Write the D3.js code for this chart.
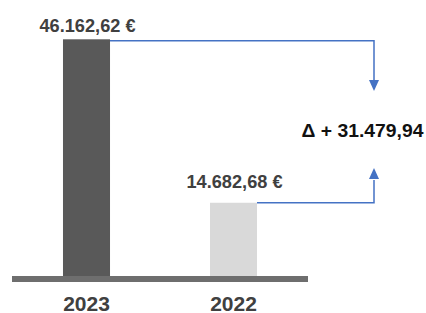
<!DOCTYPE html>
<html>
<head>
<meta charset="utf-8">
<style>
  html, body { margin: 0; padding: 0; background: #fff; }
  svg { display: block; }
  text { font-family: "Liberation Sans", Arial, sans-serif; font-weight: bold; }
</style>
<script src="https://cdn.jsdelivr.net/npm/d3@7"></script>
</head>
<body>
<script>
  // Data
  const years = ['2023', '2022']
  const values = [46162.62, 14682.68]
  const valueLabels = ['46.162,62 €', '14.682,68 €']
  const barColors = ['#595959', '#d9d9d9']
  const deltaLabel = 'Δ + 31.479,94'

  const width = 426, height = 313
  const baseY = 279          // bars run to the middle of the thick baseline
  const labelGap = [7, 14.5] // gap between bar top and value label baseline

  const svg = d3.select('body').append('svg')
    .attr('width', width)
    .attr('height', height)
    .attr('viewBox', [0, 0, width, height])

  const x = d3.scaleBand()
    .domain(years)
    .range([13, 307])
    .paddingInner(0.68)
    .paddingOuter(0.34)

  const y = d3.scaleLinear()
    .domain([0, d3.max(values)])
    .range([baseY, 39.3])

  const rows = years.map((yr, i) => ({ yr, v: values[i], label: valueLabels[i], color: barColors[i], gap: labelGap[i] }))

  // Bars
  svg.append('g')
    .selectAll('rect')
    .data(rows)
    .join('rect')
    .attr('x', d => x(d.yr))
    .attr('y', d => y(d.v))
    .attr('width', x.bandwidth())
    .attr('height', d => baseY - y(d.v))
    .attr('fill', d => d.color)

  // Baseline
  svg.append('rect')
    .attr('x', 12)
    .attr('y', 276)
    .attr('width', 296)
    .attr('height', 6)
    .attr('fill', '#6e6e6e')

  // Value labels (condensed a little, like the original)
  svg.append('g')
    .selectAll('text')
    .data(rows)
    .join('text')
    .attr('x', d => x(d.yr) + x.bandwidth() / 2 - 47)
    .attr('y', d => y(d.v) - d.gap)
    .attr('textLength', 96)
    .attr('lengthAdjust', 'spacingAndGlyphs')
    .attr('font-size', 19)
    .attr('fill', '#404040')
    .text(d => d.label)

  // Year labels
  svg.append('g')
    .selectAll('text')
    .data(rows)
    .join('text')
    .attr('x', d => x(d.yr) + x.bandwidth() / 2)
    .attr('y', 310.5)
    .attr('text-anchor', 'middle')
    .attr('font-size', 21)
    .attr('fill', '#404040')
    .text(d => d.yr)

  // Difference connectors
  const blue = '#4472c4'
  const ax = 374
  const topY = y(values[0]) + 1.5
  const lowY = y(values[1])
  const g = svg.append('g')
    .attr('fill', 'none')
    .attr('stroke', blue)
    .attr('stroke-width', 1.5)
  g.append('path')
    .attr('d', `M${x(years[0]) + x.bandwidth()},${topY}H${ax}V80`)
  g.append('path')
    .attr('d', `M${x(years[1]) + x.bandwidth()},${lowY}H${ax}V180`)

  const arrow = (tipY, dir) => `M${ax},${tipY}L${ax - 5},${tipY - dir * 11}L${ax + 5},${tipY - dir * 11}Z`
  svg.append('path').attr('d', arrow(91, 1)).attr('fill', blue)
  svg.append('path').attr('d', arrow(168, -1)).attr('fill', blue)

  // Delta label
  svg.append('text')
    .attr('x', 301.5)
    .attr('y', 136.7)
    .attr('textLength', 122)
    .attr('lengthAdjust', 'spacingAndGlyphs')
    .attr('font-size', 19)
    .attr('fill', '#111')
    .text(deltaLabel)
</script>
</body>
</html>
